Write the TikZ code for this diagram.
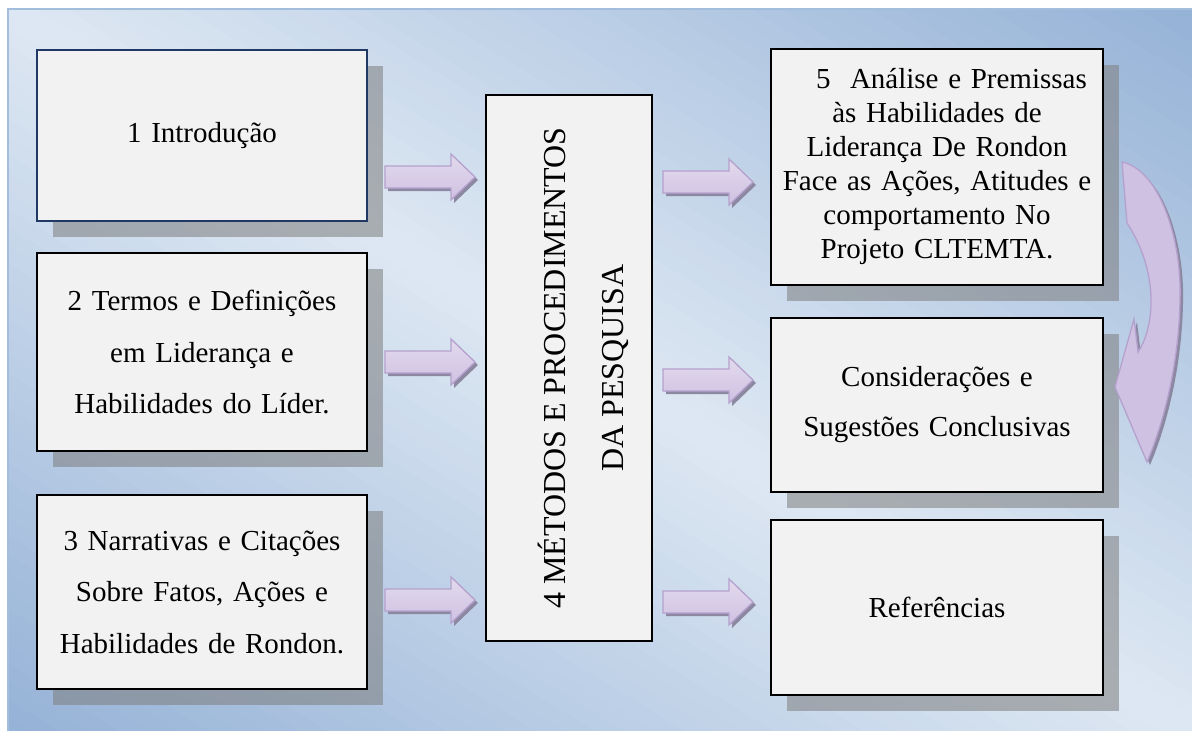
\documentclass[tikz,border=0pt]{standalone}
\usepackage{fontspec}
\setmainfont{Liberation Serif}
\usetikzlibrary{shadows,calc}

\definecolor{bgLight}{HTML}{DEE8F3}
\definecolor{bgDark}{HTML}{95B2D7}
\definecolor{panelEdge}{HTML}{A3BDDD}
\definecolor{boxFill}{HTML}{F2F2F2}
\definecolor{navy}{HTML}{1F3864}
\definecolor{shadowGray}{HTML}{7E7E7E}
\definecolor{arEdge}{HTML}{B5A1CD}
\definecolor{arLight}{HTML}{F4F1F9}
\definecolor{arMid}{HTML}{E2DAED}
\definecolor{arDark}{HTML}{CFC1E2}
\definecolor{arShadow}{HTML}{8C88A2}

\tikzset{
  box/.style={draw=black, line width=1.4pt, fill=boxFill, align=center,
    inner sep=0pt, text width=320pt,
    drop shadow={shadow xshift=16pt, shadow yshift=-16pt,
                 fill=shadowGray, opacity=0.55},
    font=\fontsize{29}{51.5}\selectfont},
  leftbox/.style={box, minimum width=330pt},
  rightbox/.style={box, minimum width=332pt},
  blockarrow/.pic={
    \fill[arShadow, shift={(3,3)}]
      (0,-11) -- (66,-11) -- (66,-23) -- (90,0) -- (66,23) -- (66,11) -- (0,11) -- cycle;
    \path[draw=arEdge, line width=1.3pt, top color=arMid, middle color=arLight,
          bottom color=arDark]
      (0,-11) -- (66,-11) -- (66,-23) -- (90,0) -- (66,23) -- (66,11) -- (0,11) -- cycle;
  }
}

\begin{document}
\begin{tikzpicture}[x=1pt, y=-1pt]
\useasboundingbox (0,0) rectangle (1192,731);

% background panel: light along the main diagonal, darker towards the
% top-right and bottom-left corners (drawn as thin bands)
\begin{scope}
  \clip (8,9) rectangle (1192,731);
  \begin{scope}[shift={(600,370)}]
    \begin{scope}[x={(0.8538pt,-0.5206pt)}, y={(0.5206pt,0.8538pt)}]
      \foreach \k in {-40,...,39} {
        \pgfmathsetmacro{\mix}{min(100,abs((\k+0.5)*15.5)/616*100)}
        \pgfmathsetmacro{\ya}{\k*15.5-0.6}
        \pgfmathsetmacro{\yb}{(\k+1)*15.5+0.6}
        \fill[bgDark!\mix!bgLight]
          (-800,\ya) -- (800,\ya) -- (800,\yb) -- (-800,\yb) -- cycle;
      }
    \end{scope}
  \end{scope}
\end{scope}
\draw[panelEdge, line width=1.5pt] (1192,9) -- (8,9) -- (8,731);

% left column
\node[leftbox, draw=navy, minimum height=171pt] (b1) at (202,135.5) {1 Introdução};
\node[leftbox, minimum height=198pt] (b2) at (202,352)
  {2 Termos e Definições\\em Liderança e\\Habilidades do Líder.};
\node[leftbox, minimum height=194pt] (b3) at (202,592)
  {3 Narrativas e Citações\\Sobre Fatos, Ações e\\Habilidades de Rondon.};

% central box with vertical title
\node[draw=black, line width=1.4pt, fill=boxFill, inner sep=0pt,
      minimum width=166pt, minimum height=546pt] (m) at (569,368) {};
\node[rotate=90, align=center, inner sep=0pt,
      font=\fontsize{32}{58}\selectfont] (mt) at ($(m.center)+(14,0)$)
  {4 MÉTODOS E PROCEDIMENTOS\\DA PESQUISA};

% right column
\node[rightbox, minimum height=236pt, font=\fontsize{29}{34}\selectfont] (b5) at (937,167)
  {\hspace*{1em}5\ \ Análise e Premissas\\às Habilidades de\\Liderança De Rondon\\Face as Ações, Atitudes e\\comportamento No\\Projeto CLTEMTA.};
\node[rightbox, minimum height=174pt, font=\fontsize{29}{50}\selectfont] (b6) at (937,405)
  {Considerações e\\Sugestões Conclusivas};
\node[rightbox, minimum height=175pt] (b7) at (937,607.5) {Referências};

% block arrows towards and away from the central box
\pic at (385,177) {blockarrow};
\pic at (385,362) {blockarrow};
\pic at (385,600) {blockarrow};
\pic at (663,182) {blockarrow};
\pic at (663,380) {blockarrow};
\pic at (663,602) {blockarrow};

% curved arrow from box 5 down to the conclusions
\fill[arShadow, shift={(3,3)}]
  (1122,162) .. controls (1160,170) and (1182,240) .. (1180,300)
  .. controls (1179,360) and (1165,420) .. (1147,462)
  -- (1115,387) -- (1134,319) -- (1138,352)
  .. controls (1156,325) and (1158,270) .. (1127,223) -- cycle;
\path[draw=arEdge, line width=1.3pt, left color=arDark, middle color=arLight,
      right color=arDark]
  (1122,162) .. controls (1160,170) and (1182,240) .. (1180,300)
  .. controls (1179,360) and (1165,420) .. (1147,462)
  -- (1115,387) -- (1134,319) -- (1138,352)
  .. controls (1156,325) and (1158,270) .. (1127,223) -- cycle;
\end{tikzpicture}
\end{document}
